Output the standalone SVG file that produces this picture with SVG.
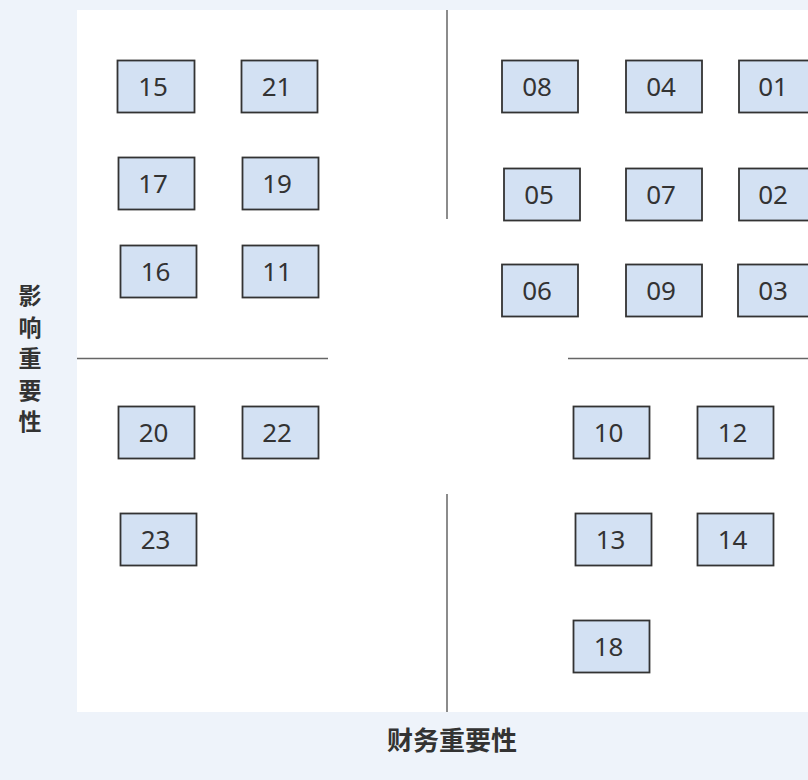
<svg xmlns="http://www.w3.org/2000/svg" width="808" height="780" viewBox="0 0 808 780">
<style>
.bx rect{fill:#d3e1f3;stroke:#333;stroke-width:1.8}
.bx text{font-family:"Noto Sans","Open Sans",sans-serif;font-size:26px;fill:#333;text-anchor:middle;dominant-baseline:central}
.ln{stroke:#666;stroke-width:1.5;fill:none}
.ax{font-family:"Noto Sans CJK SC",sans-serif;font-weight:bold;fill:#333;text-anchor:middle}
</style>
<rect width="808" height="780" fill="#eef3fa"/>
<rect x="77" y="10" width="731" height="702" fill="#fff"/>
<g id="connectors">
<line class="ln" x1="447" y1="10" x2="447" y2="219"/>
<line class="ln" x1="447" y1="494" x2="447" y2="712"/>
<line class="ln" x1="77" y1="358.5" x2="328" y2="358.5"/>
<line class="ln" x1="568" y1="358.5" x2="808" y2="358.5"/>
</g>
<g id="n15" class="bx"><rect x="117.5" y="60.5" width="77" height="52"/><text x="153" y="85.5">15</text></g>
<g id="n21" class="bx"><rect x="241.5" y="60.5" width="76" height="52"/><text x="276.5" y="85.5">21</text></g>
<g id="n17" class="bx"><rect x="118.5" y="157.5" width="76" height="52"/><text x="153" y="182.5">17</text></g>
<g id="n19" class="bx"><rect x="242.5" y="157.5" width="76" height="52"/><text x="277" y="182.5">19</text></g>
<g id="n16" class="bx"><rect x="120.5" y="245.5" width="76" height="52"/><text x="155.5" y="270.5">16</text></g>
<g id="n11" class="bx"><rect x="242.5" y="245.5" width="76" height="52"/><text x="277" y="270.5">11</text></g>
<g id="n20" class="bx"><rect x="118.5" y="406.5" width="76" height="52"/><text x="153.5" y="431.5">20</text></g>
<g id="n22" class="bx"><rect x="242.5" y="406.5" width="76" height="52"/><text x="277" y="431.5">22</text></g>
<g id="n23" class="bx"><rect x="120.5" y="513.5" width="76" height="52"/><text x="155.5" y="538.5">23</text></g>
<g id="n08" class="bx"><rect x="502" y="60.5" width="76" height="52"/><text x="537" y="85.5">08</text></g>
<g id="n04" class="bx"><rect x="626" y="60.5" width="76" height="52"/><text x="661" y="85.5">04</text></g>
<g id="n01" class="bx"><rect x="739" y="60.5" width="76" height="52"/><text x="773" y="85.5">01</text></g>
<g id="n05" class="bx"><rect x="504" y="168.5" width="76" height="52"/><text x="539" y="193.5">05</text></g>
<g id="n07" class="bx"><rect x="626" y="168.5" width="76" height="52"/><text x="661" y="193.5">07</text></g>
<g id="n02" class="bx"><rect x="739" y="168.5" width="76" height="52"/><text x="773" y="193.5">02</text></g>
<g id="n06" class="bx"><rect x="502" y="264.5" width="76" height="52"/><text x="537" y="289.5">06</text></g>
<g id="n09" class="bx"><rect x="626" y="264.5" width="76" height="52"/><text x="661" y="289.5">09</text></g>
<g id="n03" class="bx"><rect x="738" y="264.5" width="76" height="52"/><text x="773" y="289.5">03</text></g>
<g id="n10" class="bx"><rect x="573.5" y="406.5" width="76" height="52"/><text x="608.5" y="431.5">10</text></g>
<g id="n12" class="bx"><rect x="697.5" y="406.5" width="76" height="52"/><text x="732.5" y="431.5">12</text></g>
<g id="n13" class="bx"><rect x="575.5" y="513.5" width="76" height="52"/><text x="610.5" y="538.5">13</text></g>
<g id="n14" class="bx"><rect x="697.5" y="513.5" width="76" height="52"/><text x="732.5" y="538.5">14</text></g>
<g id="n18" class="bx"><rect x="573.5" y="620.5" width="76" height="52"/><text x="608.5" y="645.5">18</text></g>
<g id="yaxis" class="ax" font-size="23">
<text x="30" y="304">影</text>
<text x="30" y="335.5">响</text>
<text x="30" y="367">重</text>
<text x="30" y="398.5">要</text>
<text x="30" y="430">性</text>
</g>
<g id="xaxis" class="ax" font-size="26"><text x="452" y="750">财务重要性</text></g>
</svg>
